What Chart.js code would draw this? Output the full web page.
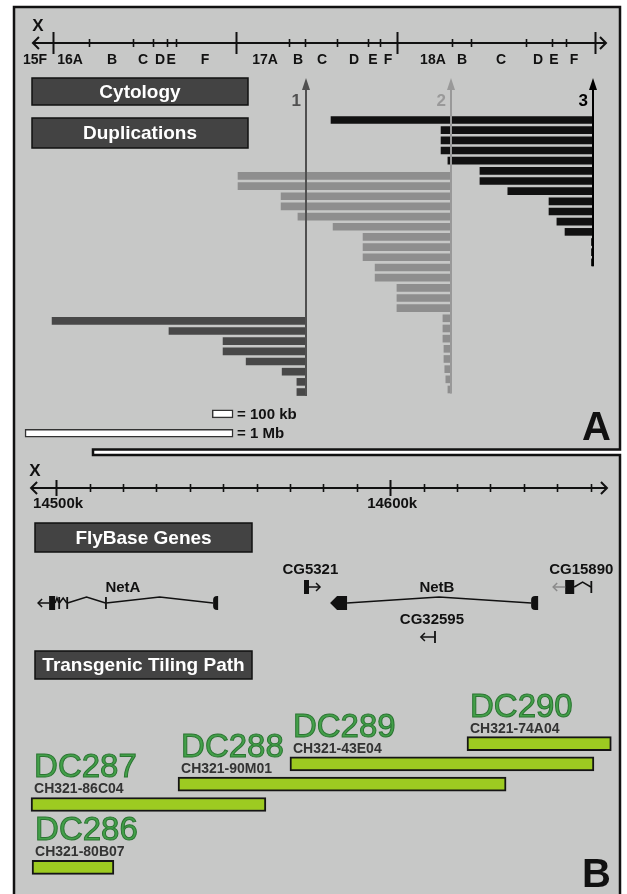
<!DOCTYPE html>
<html>
<head>
<meta charset="utf-8">
<script src="https://cdn.jsdelivr.net/npm/chart.js@4.4.1/dist/chart.umd.min.js"></script>
<style>
  html, body { margin: 0; padding: 0; background: #fff; overflow: hidden; }
  canvas { display: block; }
</style>
</head>
<body>
<canvas id="fig" width="627" height="894"></canvas>
<script>
// ---------- panel A : cytology, positions in kb from the 15F/16A boundary ----------
const bandTicks = [0, 175, 386, 482, 550, 593, 881, 1136, 1213, 1367, 1516, 1574, 1655, 1920, 2011, 2276, 2401, 2468, 2607];
const bandMajor = [0, 881, 1655, 2607];
const bandLabels = ['15F', '16A', 'B', 'C', 'D', 'E', 'F', '17A', 'B', 'C', 'D', 'E', 'F', '18A', 'B', 'C', 'D', 'E', 'F'];
const bandLabelPos = [-85, 83, 285, 434, 516, 569, 732, 1021, 1180, 1295, 1449, 1540, 1612, 1828, 1968, 2156, 2333, 2410, 2506];
const bandEnds = [-95, 2660];
const breakpoints = [1218, 1915, 2598];          // arrows 1, 2, 3 (right end of every duplication)

// duplications ending at breakpoint 1
const dup1Start = [-3, 559, 819, 819, 930, 1103, 1174, 1174];
const dup1Rows  = [19.75, 20.75, 21.75, 22.75, 23.75, 24.75, 25.75, 26.75];
// duplications ending at breakpoint 2
const dup2Start = [891, 891, 1098, 1098, 1179, 1348, 1492, 1492, 1492, 1550, 1550,
                   1655, 1655, 1655, 1876, 1876, 1876, 1881, 1881, 1885, 1890, 1900];
const dup2Rows  = [5.5, 6.5, 7.5, 8.5, 9.5, 10.5, 11.5, 12.5, 13.5, 14.5, 15.5,
                   16.5, 17.5, 18.5, 19.5, 20.5, 21.5, 22.5, 23.5, 24.5, 25.5, 26.5];
// duplications ending at breakpoint 3
const dup3Start = [1338, 1867, 1867, 1867, 1900, 2054, 2054, 2188, 2386, 2386, 2424, 2463, 2590, 2590, 2590];
const dup3Rows  = [0, 1, 2, 3, 4, 5, 6, 7, 8, 9, 10, 11, 12, 13, 14];

// scale bars (kb)
const scaleBarKb = [100, 1000];
const scaleBarLabels = ['= 100 kb', '= 1 Mb'];
const scaleBarEnd = 867;
const scaleBarRows = [28.9, 30.8];

// ---------- panel B : genome coordinates (kb) ----------
const coordTicks = [14500, 14510, 14520, 14530, 14540, 14550, 14560, 14570, 14580, 14590,
                    14600, 14610, 14620, 14630, 14640, 14650, 14660];
const coordMajor = [14500, 14600];
const coordLabels = ['14500k', '14600k'];
const coordEnds = [14492.5, 14664.9];

const geneNames = ['NetA', 'CG5321', 'NetB', 'CG32595', 'CG15890'];
const geneLabelAt = [14520.0, 14576.1, 14614.0, 14612.5, 14657.2];
const geneExons = [
  [[14497.9, 14499.7], [14500.8, 14501.0], [14503.2, 14503.4], [14514.8, 14515.0], [14547.0, 14548.5]],
  [[14574.2, 14575.7]],
  [[14582.0, 14587.1], [14642.2, 14644.3]],
  [[14613.3, 14613.6]],
  [[14652.4, 14655.1], [14660.1, 14660.4]]
];
const geneExonShape = [
  ['rect', 'tick', 'tick', 'tick', 'round'],
  ['rect'],
  ['point', 'round'],
  ['tick'],
  ['rect', 'tick']
];
const geneIntrons = [
  [[14499.7, 14500.8], [14501.0, 14503.2], [14503.4, 14514.8], [14515.0, 14547.0]],
  [],
  [[14587.1, 14642.2]],
  [],
  [[14655.1, 14660.1]]
];
const geneArrow = [[14497.9, 14494.6], [14575.7, 14579.0], null, [14613.3, 14609.2], [14652.4, 14648.8]];

const clones = ['DC286', 'DC287', 'DC288', 'DC289', 'DC290'];
const bacs = ['CH321-80B07', 'CH321-86C04', 'CH321-90M01', 'CH321-43E04', 'CH321-74A04'];
const cloneStart = [14492.8, 14492.5, 14536.5, 14570.0, 14623.0];
const cloneEnd   = [14517.3, 14562.8, 14634.7, 14661.0, 14666.2];
const cloneRow   = [6.1, 3, 2, 1, 0];

// ---------- layout ----------
const W = 627, H = 894;
const PANEL = '#c7c8c7';
const FONT = '"Liberation Sans", Arial, sans-serif';
const axisA_Y = 43, axisB_Y = 488;
const geneLaneY = [603, 587, 603, 637, 587];
const geneLabelY = [588, 570, 588, 620, 570];
const arrowColors = ['#505050', '#999999', '#000000'];
const arrowLabels = ['1', '2', '3'];

function header(c, text, x, y, w, h) {
  c.fillStyle = '#434343';
  c.fillRect(x, y, w, h);
  c.strokeStyle = '#111';
  c.lineWidth = 1.5;
  c.strokeRect(x, y, w, h);
  c.fillStyle = '#fff';
  c.font = 'bold 19px ' + FONT;
  c.textAlign = 'center';
  c.textBaseline = 'middle';
  c.fillText(text, x + w / 2, y + h / 2 + 1);
}

function chevron(c, x, y, dir, size) {
  c.beginPath();
  c.moveTo(x - dir * size, y - size);
  c.lineTo(x, y);
  c.lineTo(x - dir * size, y + size);
  c.stroke();
}

function hAxis(c, scale, y, ticks, majors, ends, majH, minH) {
  const x0 = scale.getPixelForValue(ends[0]);
  const x1 = scale.getPixelForValue(ends[1]);
  c.strokeStyle = '#111';
  c.lineWidth = 2;
  c.beginPath();
  c.moveTo(x0, y);
  c.lineTo(x1, y);
  c.stroke();
  chevron(c, x0, y, -1, 6);
  chevron(c, x1, y, 1, 6);
  ticks.forEach(t => {
    const x = Math.round(scale.getPixelForValue(t)) + 0.5;
    const h = majors.includes(t) ? majH : minH;
    c.lineWidth = majors.includes(t) ? 2 : 1.6;
    c.beginPath();
    c.moveTo(x, y - h);
    c.lineTo(x, y + h);
    c.stroke();
  });
}

const decor = {
  id: 'decor',
  beforeDraw(chart) {
    const c = chart.ctx;
    const xA = chart.scales.xA, xB = chart.scales.xB;
    c.save();
    c.fillStyle = '#fff';
    c.fillRect(0, 0, W, H);
    c.fillStyle = PANEL;
    c.fillRect(14, 7, 606, H - 7);
    // gap between panel A and B
    c.fillStyle = '#fff';
    c.fillRect(93, 450, W - 93, 5);
    c.strokeStyle = '#111';
    c.lineWidth = 2.5;
    c.beginPath();
    c.moveTo(14, H);
    c.lineTo(14, 7);
    c.lineTo(620, 7);
    c.lineTo(620, 449.5);
    c.lineTo(93, 449.5);
    c.lineTo(93, 455);
    c.lineTo(620, 455);
    c.lineTo(620, H);
    c.stroke();

    // panel A axis
    hAxis(c, xA, axisA_Y, bandTicks, bandMajor, bandEnds, 11, 4);
    c.fillStyle = '#111';
    c.font = 'bold 14px ' + FONT;
    c.textAlign = 'center';
    c.textBaseline = 'middle';
    bandLabels.forEach((l, i) => c.fillText(l, xA.getPixelForValue(bandLabelPos[i]), 60));
    c.font = 'bold 17px ' + FONT;
    c.fillText('X', 38, 26);

    header(c, 'Cytology', 32, 78, 216, 27);
    header(c, 'Duplications', 32, 118, 216, 30);

    // panel B axis
    hAxis(c, xB, axisB_Y, coordTicks, coordMajor, coordEnds, 8, 4);
    c.fillStyle = '#111';
    c.font = 'bold 15px ' + FONT;
    c.textAlign = 'center';
    c.textBaseline = 'middle';
    coordMajor.forEach((t, i) => c.fillText(coordLabels[i], xB.getPixelForValue(t) + 2, 504));
    c.font = 'bold 17px ' + FONT;
    c.fillText('X', 35, 471);

    header(c, 'FlyBase Genes', 35, 523, 217, 29);
    header(c, 'Transgenic Tiling Path', 35, 651, 217, 28);
    c.restore();
  },
  afterDatasetsDraw(chart) {
    const c = chart.ctx;
    const xA = chart.scales.xA, xB = chart.scales.xB, yA = chart.scales.yA1, yB = chart.scales.yB;
    c.save();

    // breakpoint arrows
    const lastRows = [dup1Rows[dup1Rows.length - 1], dup2Rows[dup2Rows.length - 1], dup3Rows[dup3Rows.length - 1]];
    breakpoints.forEach((b, i) => {
      const x = Math.round(xA.getPixelForValue(b));
      const yBot = yA.getPixelForValue(lastRows[i]) + 4;
      c.strokeStyle = arrowColors[i];
      c.fillStyle = arrowColors[i];
      c.lineWidth = 2;
      c.beginPath();
      c.moveTo(x, 88);
      c.lineTo(x, yBot);
      c.stroke();
      c.beginPath();
      c.moveTo(x, 78);
      c.lineTo(x - 4, 90);
      c.lineTo(x + 4, 90);
      c.closePath();
      c.fill();
      c.font = 'bold 17px ' + FONT;
      c.textAlign = 'right';
      c.textBaseline = 'alphabetic';
      c.fillText(arrowLabels[i], x - 5, 106);
    });

    // scale bar labels
    c.fillStyle = '#111';
    c.font = 'bold 15px ' + FONT;
    c.textAlign = 'left';
    c.textBaseline = 'middle';
    scaleBarLabels.forEach((l, i) => c.fillText(l, xA.getPixelForValue(scaleBarEnd) + 4, yA.getPixelForValue(scaleBarRows[i]) + 1));

    // genes
    geneNames.forEach((name, g) => {
      const y = geneLaneY[g];
      c.strokeStyle = '#111';
      c.fillStyle = '#111';
      c.lineWidth = 1.5;
      geneIntrons[g].forEach(([s, e]) => {
        const a = xB.getPixelForValue(s), b = xB.getPixelForValue(e);
        const h = (b - a) > 20 ? 6 : 5;
        c.beginPath();
        c.moveTo(a, y);
        c.lineTo((a + b) / 2, y - h);
        c.lineTo(b, y);
        c.stroke();
      });
      geneExons[g].forEach(([s, e], k) => {
        const a = xB.getPixelForValue(s), b = xB.getPixelForValue(e);
        const shape = geneExonShape[g][k];
        c.beginPath();
        if (shape === 'tick') {
          c.fillRect(a - 0.5, y - 6, 1.8, 12);
          return;
        } else if (shape === 'point') {
          c.moveTo(a, y);
          c.lineTo(a + 7, y - 7);
          c.lineTo(b, y - 7);
          c.lineTo(b, y + 7);
          c.lineTo(a + 7, y + 7);
          c.closePath();
        } else if (shape === 'round') {
          c.roundRect(a, y - 7, b - a, 14, [4, 0, 0, 4]);
        } else {
          c.rect(a, y - 7, b - a, 14);
        }
        c.fill();
      });
      if (geneArrow[g]) {
        const from = xB.getPixelForValue(geneArrow[g][0]);
        const tip = xB.getPixelForValue(geneArrow[g][1]);
        c.strokeStyle = g === 4 ? '#8a8a8a' : '#111';
        c.lineWidth = 1.5;
        c.beginPath();
        c.moveTo(from, y);
        c.lineTo(tip, y);
        c.stroke();
        chevron(c, tip, y, tip > from ? 1 : -1, 4);
      }
      c.fillStyle = '#111';
      c.font = 'bold 15px ' + FONT;
      c.textAlign = 'center';
      c.textBaseline = 'middle';
      c.fillText(name, xB.getPixelForValue(geneLabelAt[g]), geneLabelY[g]);
    });

    // tiling path labels
    clones.forEach((name, i) => {
      const x = xB.getPixelForValue(cloneStart[i]) + 3;
      const top = yB.getPixelForValue(cloneRow[i]) - 7;
      c.textAlign = 'left';
      c.textBaseline = 'alphabetic';
      c.font = '33px ' + FONT;
      c.fillStyle = '#43a049';
      c.strokeStyle = '#2b7532';
      c.lineWidth = 1;
      c.fillText(name, x, top - 20);
      c.strokeText(name, x, top - 20);
      c.font = 'bold 14px ' + FONT;
      c.fillStyle = '#333';
      c.fillText(bacs[i], x, top - 4);
    });

    // panel letters
    c.fillStyle = '#111';
    c.font = 'bold 40px ' + FONT;
    c.textAlign = 'right';
    c.textBaseline = 'alphabetic';
    c.fillText('A', 611, 440);
    c.fillText('B', 611, 887);
    c.restore();
  }
};

function dupSet(starts, end, rows, color, axis) {
  return {
    data: starts.map((s, i) => ({ x: [s, end], y: rows[i] })),
    backgroundColor: color,
    borderWidth: 0,
    grouped: false,
    barThickness: 7,
    maxBarThickness: 7,
    xAxisID: 'xA',
    yAxisID: axis
  };
}

const rowAxis = (min, max) => ({ type: 'linear', display: false, reverse: true, offset: false, min, max });

new Chart(document.getElementById('fig'), {
  type: 'bar',
  data: {
    datasets: [
      dupSet(dup1Start, breakpoints[0], dup1Rows, '#484848', 'yA1'),
      dupSet(dup2Start, breakpoints[1], dup2Rows, '#8e8e8e', 'yA2'),
      dupSet(dup3Start, breakpoints[2], dup3Rows, '#111111', 'yA3'),
      {
        data: scaleBarKb.map((len, i) => ({ x: [scaleBarEnd - len, scaleBarEnd], y: scaleBarRows[i] })),
        backgroundColor: '#ffffff',
        borderColor: '#333',
        borderWidth: 1.5,
        borderSkipped: false,
        grouped: false,
        barThickness: 8,
        maxBarThickness: 8,
        xAxisID: 'xA',
        yAxisID: 'yA4'
      },
      {
        data: cloneStart.map((s, i) => ({ x: [s, cloneEnd[i]], y: cloneRow[i] })),
        backgroundColor: '#9dcb21',
        borderColor: '#151515',
        borderWidth: 2,
        borderSkipped: false,
        grouped: false,
        barThickness: 14,
        maxBarThickness: 14,
        xAxisID: 'xB',
        yAxisID: 'yB'
      }
    ]
  },
  options: {
    indexAxis: 'y',
    responsive: false,
    animation: false,
    layout: { padding: 0 },
    plugins: { legend: { display: false }, tooltip: { enabled: false } },
    scales: {
      xA: { type: 'linear', display: false, min: -253.4, max: 2761, stacked: false, beginAtZero: false },
      xB: { type: 'linear', display: false, min: 14483.2, max: 14670.9, stacked: false, beginAtZero: false },
      yA1: rowAxis(-11.8, 76.11),
      yA2: rowAxis(-11.8, 76.11),
      yA3: rowAxis(-11.8, 76.11),
      yA4: rowAxis(-11.8, 76.11),
      yB: rowAxis(-36.63, 7.41)
    }
  },
  plugins: [decor]
});
</script>
</body>
</html>
